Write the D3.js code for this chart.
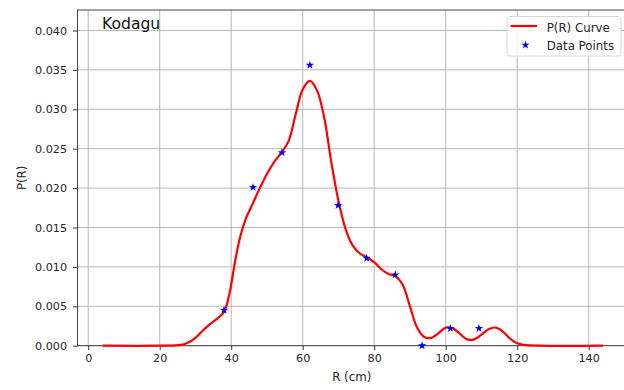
<!DOCTYPE html>
<html>
<head>
<meta charset="utf-8">
<script src="https://cdn.jsdelivr.net/npm/d3@7"></script>
<style>
  body { margin: 0; background: #fff; }
  svg { display: block; font-family: "DejaVu Sans", sans-serif; }
</style>
</head>
<body>
<svg id="chart"></svg>
<script>
// data
const title = 'Kodagu';
const xTicks = [0, 20, 40, 60, 80, 100, 120, 140];
const yTicks = [0, 0.005, 0.01, 0.015, 0.02, 0.025, 0.03, 0.035, 0.04];

const pointR = [38.0, 46.1, 54.2, 62.0, 69.9, 77.9, 85.9, 93.4, 101.3, 109.3];
const pointP = [0.0045, 0.0201, 0.0245, 0.0356, 0.0178, 0.0111, 0.0090, 0.0, 0.0022, 0.0022];

const curveR = [4, 20, 26, 28, 30, 32, 34, 36, 38, 39.5, 41, 42.5, 44, 46, 48, 50, 52, 54, 56, 58,
  60, 62, 64, 66, 68, 70, 72, 74, 76, 78, 80, 82, 84, 86, 88, 90, 92, 94, 96, 98,
  100, 102, 104, 106, 108, 110, 112, 114, 116, 118, 120, 122, 126, 144];
const curveP = [0, 0, 0.0001, 0.0004, 0.0010, 0.0019, 0.0027, 0.0034, 0.0043, 0.0066, 0.0105, 0.0138, 0.0160, 0.0180, 0.0200, 0.0218, 0.0233, 0.0245, 0.0259, 0.0293,
  0.0325, 0.0336, 0.0324, 0.0290, 0.0233, 0.0184, 0.0148, 0.0127, 0.0117, 0.0112, 0.0106, 0.0097, 0.0091, 0.0088, 0.0077, 0.0050, 0.0023, 0.0011, 0.0010, 0.0016,
  0.0023, 0.0022, 0.0015, 0.0008, 0.0008, 0.0014, 0.0021, 0.0023, 0.0018, 0.0009, 0.0003, 0.0001, 0, 0];

const width = 624, height = 390;
const m = {left: 77.5, top: 10, right: 628, bottom: 345.7};

const svg = d3.select('#chart').attr('width', width).attr('height', height);

const x = d3.scaleLinear().domain([-3, 151]).range([m.left, m.right]);
const y = d3.scaleLinear().domain([0, 0.0426]).range([m.bottom, m.top]);

// grid
svg.append('g')
  .selectAll('line')
  .data(xTicks)
  .join('line')
    .attr('x1', d => x(d)).attr('x2', d => x(d))
    .attr('y1', m.top).attr('y2', m.bottom)
    .attr('stroke', '#b0b0b0').attr('stroke-width', 0.9);
svg.append('g')
  .selectAll('line')
  .data(yTicks)
  .join('line')
    .attr('x1', m.left).attr('x2', m.right)
    .attr('y1', d => y(d)).attr('y2', d => y(d))
    .attr('stroke', '#b0b0b0').attr('stroke-width', 0.9);

// axes
const xAxis = svg.append('g')
  .attr('transform', `translate(0,${m.bottom})`)
  .call(d3.axisBottom(x).tickValues(xTicks).tickSize(4.5).tickPadding(3.5).tickFormat(d3.format('d')));
const yAxis = svg.append('g')
  .attr('transform', `translate(${m.left},0)`)
  .call(d3.axisLeft(y).tickValues(yTicks).tickSize(4.5).tickPadding(6).tickFormat(d3.format('.3f')));
[xAxis, yAxis].forEach(a => {
  a.select('.domain').remove();
  a.selectAll('text').attr('font-size', 11.2).attr('fill', '#262626').attr('font-family', 'DejaVu Sans');
  a.selectAll('line').attr('stroke', '#333');
});

// spines
svg.append('rect')
  .attr('x', m.left).attr('y', m.top)
  .attr('width', m.right - m.left).attr('height', m.bottom - m.top)
  .attr('fill', 'none').attr('stroke', '#333').attr('stroke-width', 0.9);

// curve
const line = d3.line()
  .x((d, i) => x(curveR[i]))
  .y(d => y(d))
  .curve(d3.curveCatmullRom.alpha(0.5));
svg.append('path')
  .attr('d', line(curveP))
  .attr('fill', 'none')
  .attr('stroke', '#ff0000')
  .attr('stroke-width', 2.2)
  .attr('stroke-linejoin', 'round');

// points
const star = d3.symbol().type(d3.symbolStar).size(22);
svg.append('g')
  .selectAll('path')
  .data(pointP)
  .join('path')
    .attr('transform', (d, i) => `translate(${x(pointR[i])},${y(d)})`)
    .attr('d', star)
    .attr('fill', '#0000ff');

// labels
svg.append('text')
  .attr('x', 102).attr('y', 29)
  .attr('font-size', 15.6).attr('fill', '#111')
  .text(title);
svg.append('text')
  .attr('x', 351.7).attr('y', 381)
  .attr('text-anchor', 'middle').attr('font-size', 11.8).attr('fill', '#262626')
  .text('R (cm)');
svg.append('text')
  .attr('transform', `translate(26,${(m.top + m.bottom) / 2}) rotate(-90)`)
  .attr('text-anchor', 'middle').attr('font-size', 11.8).attr('fill', '#262626')
  .text('P(R)');

// legend
const lg = svg.append('g');
lg.append('rect')
  .attr('x', 507).attr('y', 16.5).attr('width', 114).attr('height', 39.5)
  .attr('rx', 2.5)
  .attr('fill', '#fff').attr('fill-opacity', 0.8)
  .attr('stroke', '#d6d6d6');
lg.append('line')
  .attr('x1', 510.5).attr('x2', 537).attr('y1', 26).attr('y2', 26)
  .attr('stroke', '#ff0000').attr('stroke-width', 2.2);
lg.append('path')
  .attr('transform', 'translate(525.5,45)')
  .attr('d', star)
  .attr('fill', '#0000ff');
lg.append('text')
  .attr('x', 546.7).attr('y', 31.5)
  .attr('font-size', 11.8).attr('fill', '#262626')
  .text('P(R) Curve');
lg.append('text')
  .attr('x', 546.7).attr('y', 49.5)
  .attr('font-size', 11.8).attr('fill', '#262626')
  .text('Data Points');
</script>
</body>
</html>
